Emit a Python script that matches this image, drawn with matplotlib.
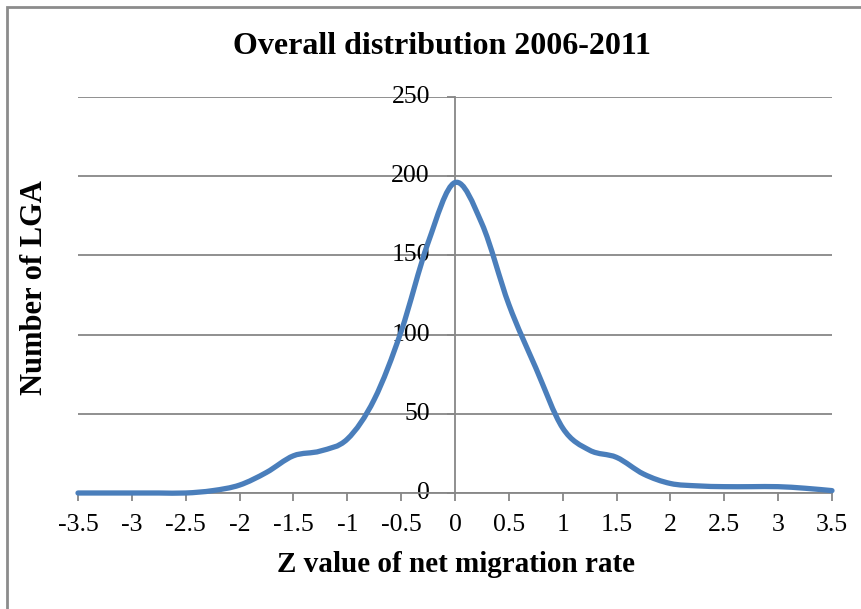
import matplotlib
matplotlib.use("Agg")
import matplotlib.pyplot as plt
from matplotlib.path import Path
from matplotlib.patches import PathPatch, Rectangle
import numpy as np

plt.rcParams['font.family'] = ['Liberation Serif', 'DejaVu Serif']

# Data
z_values = [-3.5, -3.25, -3.0, -2.75, -2.5, -2.25, -2.0, -1.75, -1.5, -1.25, -1.0,
            -0.75, -0.5, -0.25, 0.0, 0.25, 0.5, 0.75, 1.0, 1.25, 1.5, 1.75,
            2.0, 2.25, 2.5, 2.75, 3.0, 3.25, 3.5]
counts = [0, 0, 0, 0, 0, 1.5, 5, 13, 23.5, 26.5, 34,
          59, 102, 158, 196, 170, 119, 79, 41, 27, 22.5, 12,
          6, 4.5, 4, 4, 4, 3, 1.5]
x_ticks = [-3.5, -3, -2.5, -2, -1.5, -1, -0.5, 0, 0.5, 1, 1.5, 2, 2.5, 3, 3.5]
x_tick_labels = ['-3.5', '-3', '-2.5', '-2', '-1.5', '-1', '-0.5', '0', '0.5', '1',
                 '1.5', '2', '2.5', '3', '3.5']
y_ticks = [0, 50, 100, 150, 200, 250]

W, H = 862, 609
fig = plt.figure(figsize=(W / 100, H / 100), dpi=100)
ax = fig.add_axes([78 / W, 1 - 493 / H, (832 - 78) / W, (493 - 97) / H])

grid_c = '#878787'
ax.set_xlim(-3.5, 3.5)
ax.set_ylim(0, 250)
ax.set_yticks(y_ticks)
ax.set_xticks(x_ticks)
ax.set_xticklabels(x_tick_labels)
ax.yaxis.grid(True, color=grid_c, lw=1.3)
ax.set_axisbelow(True)

for s in ['top', 'right']:
    ax.spines[s].set_visible(False)
ax.spines['left'].set_position(('data', 0))
ax.spines['left'].set_color(grid_c)
ax.spines['left'].set_linewidth(1.3)
ax.spines['bottom'].set_color(grid_c)
ax.spines['bottom'].set_linewidth(1.3)
ax.tick_params(axis='x', direction='out', length=6, width=1.3, color=grid_c,
               labelsize=18.5, pad=9)
ax.tick_params(axis='y', direction='out', length=6, width=1.3, color=grid_c,
               labelsize=18.5, pad=12)
for lab in ax.get_yticklabels():
    lab.set_verticalalignment('center')

# Smoothed line (Catmull-Rom style Bezier, like Excel's smoothed line)
pts = np.column_stack([z_values, counts])
n = len(pts)
verts = [tuple(pts[0])]
codes = [Path.MOVETO]
for i in range(n - 1):
    p0 = pts[i - 1] if i > 0 else pts[i]
    p1 = pts[i]
    p2 = pts[i + 1]
    p3 = pts[i + 2] if i + 2 < n else pts[i + 1]
    c1 = p1 + (p2 - p0) / 6.0
    c2 = p2 - (p3 - p1) / 6.0
    verts += [tuple(c1), tuple(c2), tuple(p2)]
    codes += [Path.CURVE4] * 3
patch = PathPatch(Path(verts, codes), facecolor='none', edgecolor='#4A7EBB',
                  lw=3.8, capstyle='round', joinstyle='round', clip_on=False, zorder=3)
ax.add_patch(patch)

fig.text(442 / W, 1 - 47 / H, 'Overall distribution 2006-2011', ha='center',
         va='center', fontsize=23, fontweight='bold')
fig.text(456 / W, 1 - 565 / H, 'Z value of net migration rate', ha='center',
         va='center', fontsize=21, fontweight='bold')
fig.text(35 / W, 1 - 288 / H, 'Number of LGA', ha='center', va='center',
         rotation=90, fontsize=22, fontweight='bold')

fig.patches.append(Rectangle((7 / W, -0.05), 1.1, 1 - 7 / H + 0.05,
                             transform=fig.transFigure, fill=False,
                             edgecolor='#8c8c8c', lw=2))

fig.savefig('out.png', dpi=100)
